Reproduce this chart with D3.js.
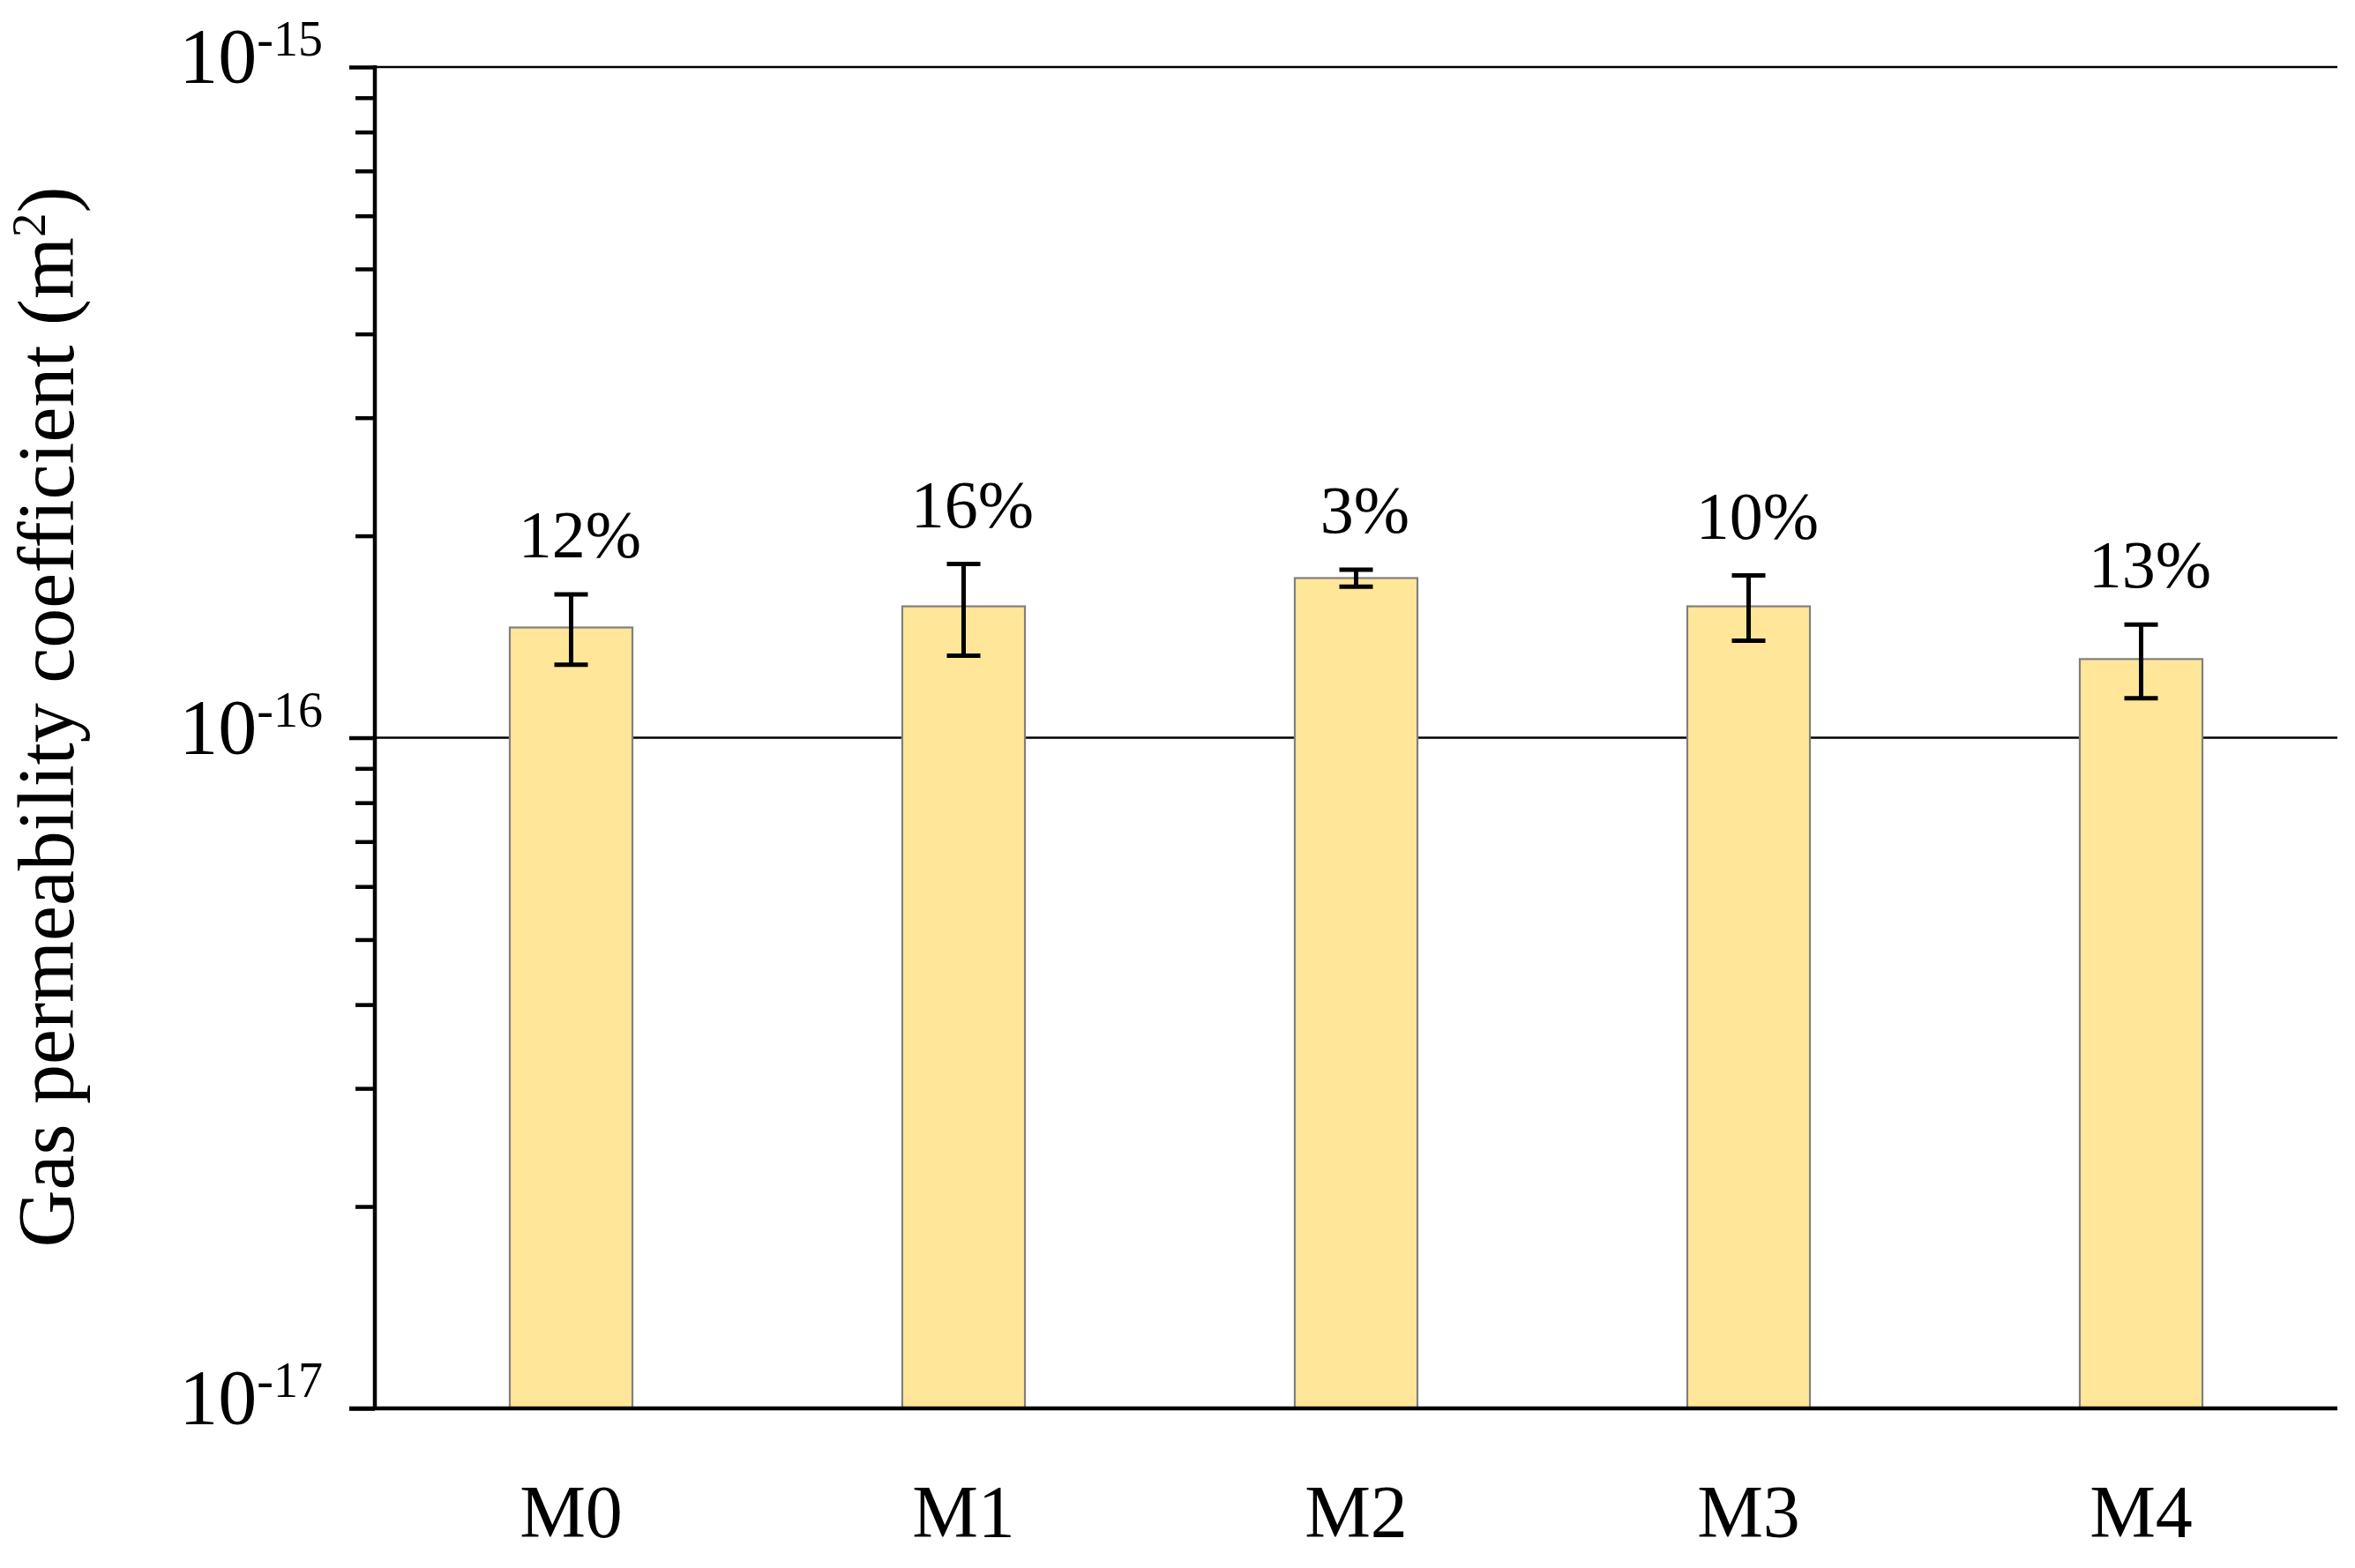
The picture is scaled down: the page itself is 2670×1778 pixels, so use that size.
<!DOCTYPE html>
<html>
<head>
<meta charset="utf-8">
<script src="https://cdn.jsdelivr.net/npm/d3@7"></script>
<style>
  html, body { margin: 0; padding: 0; background: #fff; }
  svg { display: block; }
  text { font-family: "Liberation Serif", "DejaVu Serif", serif; fill: #000; }
</style>
</head>
<body>
<svg id="chart" width="2670" height="1778"></svg>
<script>
// ---- data ----
const categories = ["M0", "M1", "M2", "M3", "M4"];
const means = [1.46e-16, 1.57e-16, 1.73e-16, 1.57e-16, 1.31e-16];
const errors = [0.175e-16, 0.245e-16, 0.05e-16, 0.175e-16, 0.165e-16];
const cvLabels = ["12%", "16%", "3%", "10%", "13%"];
const majorExponents = [-15, -16, -17];
const yTitle = "Gas permeability coefficient (m";
const yTitleSup = "2";

// ---- layout ----
const plotLeft = 425, plotRight = 2650, plotTop = 76, plotBottom = 1597;
const svg = d3.select("#chart");

const x = d3.scaleBand().domain(categories).range([plotLeft, plotRight])
  .paddingInner(0.6875).paddingOuter(0.34375);
const y = d3.scaleLog().domain([1e-17, 1e-15]).range([plotBottom, plotTop]);

const majors = majorExponents.map(e => Math.pow(10, e));
const allTicks = [];
[-17, -16].forEach(e => { for (let k = 1; k <= 9; k++) allTicks.push(k * Math.pow(10, e)); });
allTicks.push(1e-15);

// gridlines at major decades (not bottom)
svg.append("g").selectAll("line").data(majors.filter(v => v > 1.5e-17)).join("line")
  .attr("x1", plotLeft).attr("x2", plotRight)
  .attr("y1", d => y(d)).attr("y2", d => y(d))
  .attr("stroke", "#000").attr("stroke-width", 2.5);

// bars
svg.append("g").selectAll("rect").data(categories).join("rect")
  .attr("x", d => x(d))
  .attr("width", x.bandwidth())
  .attr("y", (d, i) => y(means[i]))
  .attr("height", (d, i) => y(1e-17) - y(means[i]))
  .attr("fill", "#FFE699")
  .attr("stroke", "#808080")
  .attr("stroke-width", 2.2);

// error bars
const eb = svg.append("g").attr("stroke", "#000").attr("stroke-width", 5);
categories.forEach((c, i) => {
  const cx = x(c) + x.bandwidth() / 2;
  const yt = y(means[i] + errors[i]), yb = y(means[i] - errors[i]);
  eb.append("line").attr("x1", cx).attr("x2", cx).attr("y1", yt).attr("y2", yb);
  eb.append("line").attr("x1", cx - 19).attr("x2", cx + 19).attr("y1", yt).attr("y2", yt);
  eb.append("line").attr("x1", cx - 19).attr("x2", cx + 19).attr("y1", yb).attr("y2", yb);
});

// CV labels
svg.append("g").selectAll("text").data(categories).join("text")
  .attr("x", d => x(d) + x.bandwidth() / 2 + 10)
  .attr("y", (d, i) => y(means[i] + errors[i]) - 42)
  .attr("text-anchor", "middle")
  .attr("font-size", 76)
  .text((d, i) => cvLabels[i]);

// y axis ticks via d3 axis
const yAxis = d3.axisLeft(y).tickValues(allTicks).tickSize(22).tickFormat("");
const ga = svg.append("g").attr("transform", `translate(${plotLeft},0)`).call(yAxis);
ga.select(".domain").remove();
ga.selectAll(".tick line").attr("stroke", "#000").attr("stroke-width", 4.5)
  .attr("x2", d => majors.some(m => Math.abs(m - d) / m < 1e-6) ? -29 : -22);

// axis lines
svg.append("line").attr("x1", plotLeft).attr("x2", plotLeft).attr("y1", plotTop - 2).attr("y2", plotBottom)
  .attr("stroke", "#000").attr("stroke-width", 4.5);
svg.append("line").attr("x1", plotLeft - 29).attr("x2", plotRight).attr("y1", plotBottom).attr("y2", plotBottom)
  .attr("stroke", "#000").attr("stroke-width", 4.5);

// y tick labels 10^e
const tl = svg.append("g").selectAll("text").data(majorExponents).join("text")
  .attr("x", 366)
  .attr("y", e => y(Math.pow(10, e)) + 17)
  .attr("text-anchor", "end")
  .attr("font-size", 88);
tl.append("tspan").text("10");
tl.append("tspan").attr("font-size", 56).attr("dy", -30).text(e => "-" + Math.abs(e));

// x labels
svg.append("g").selectAll("text").data(categories).join("text")
  .attr("x", d => x(d) + x.bandwidth() / 2)
  .attr("y", 1743)
  .attr("text-anchor", "middle")
  .attr("font-size", 84)
  .text(d => d);

// y title
const t = svg.append("text")
  .attr("transform", "translate(83,813) rotate(-90)")
  .attr("text-anchor", "middle")
  .attr("font-size", 90);
t.append("tspan").text(yTitle);
t.append("tspan").attr("font-size", 55).attr("dy", -32).text(yTitleSup);
t.append("tspan").attr("dy", 32).text(")");
</script>
</body>
</html>
